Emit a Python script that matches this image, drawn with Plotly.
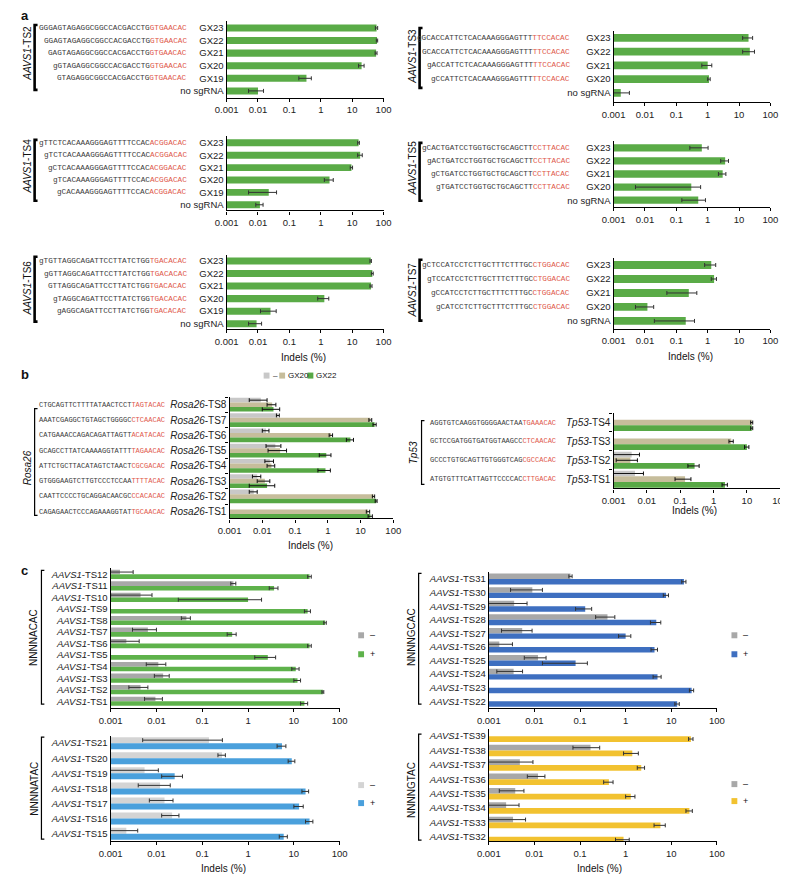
import plotly.graph_objects as go

W, H = 788, 875
SANS = "Liberation Sans, Arial, Helvetica, sans-serif"
MONO = "Liberation Mono, Courier New, monospace"
RED = "#e0584a"
SEQ_DARK = "#3a3a3a"
ERR_COL = "#333333"

TICKVALS = [0.001, 0.01, 0.1, 1, 10, 100]
TICKTEXT = ["0.001", "0.01", "0.1", "1", "10", "100"]

# ---------------- colours ----------------
GREEN_A = "#5aab47"
GRAY_B = "#c8c8c8"
TAN_B = "#c6bd9b"
GREEN_B = "#57a845"
GRAY_C = "#a8a8a8"
LGRAY_C = "#d4d4d4"
GREEN_C = "#5eb24b"
BLUE_C = "#3e6fc0"
LBLUE_C = "#4aa0dc"
YELLOW_C = "#f2c230"

# ---------------- panel a data ----------------
a_labels6 = ["GX23", "GX22", "GX21", "GX20", "GX19", "no sgRNA"]
a_labels5 = ["GX23", "GX22", "GX21", "GX20", "no sgRNA"]

ts2_val = [60, 62, 58, 20, 0.35, 0.01]
ts2_err = [5, 3, 4, 4, 0.15, 0.005]
ts2_seq = [("GGGAGTAGAGGCGGCCACGACCTG", "GTGAACAC"),
           ("GGAGTAGAGGCGGCCACGACCTG", "GTGAACAC"),
           ("GAGTAGAGGCGGCCACGACCTG", "GTGAACAC"),
           ("gGTAGAGGCGGCCACGACCTG", "GTGAACAC"),
           ("GTAGAGGCGGCCACGACCTG", "GTGAACAC")]

ts3_val = [20, 22, 1.0, 1.1, 0.0017]
ts3_err = [7, 9, 0.35, 0.1, 0.0015]
ts3_seq = [("gGCACCATTCTCACAAAGGGAGTTT", "TTCCACAC"),
           ("GCACCATTCTCACAAAGGGAGTTT", "TTCCACAC"),
           ("gACCATTCTCACAAAGGGAGTTT", "TTCCACAC"),
           ("gCCATTCTCACAAAGGGAGTTT", "TTCCACAC")]

ts4_val = [16, 18, 9.5, 1.9, 0.022, 0.0115]
ts4_err = [1, 3, 0.8, 0.6, 0.017, 0.003]
ts4_seq = [("gTTCTCACAAAGGGAGTTTTCCAC", "ACGGACAC"),
           ("gTCTCACAAAGGGAGTTTTCCAC", "ACGGACAC"),
           ("gCTCACAAAGGGAGTTTTCCAC", "ACGGACAC"),
           ("gTCACAAAGGGAGTTTTCCAC", "ACGGACAC"),
           ("gCACAAAGGGAGTTTTCCAC", "ACGGACAC")]

ts5_val = [0.65, 3.6, 3.0, 0.3, 0.5]
ts5_err = [0.38, 1.0, 0.8, 0.295, 0.35]
ts5_seq = [("gCACTGATCCTGGTGCTGCAGCTT", "CCTTACAC"),
           ("gACTGATCCTGGTGCTGCAGCTT", "CCTTACAC"),
           ("gCTGATCCTGGTGCTGCAGCTT", "CCTTACAC"),
           ("gTGATCCTGGTGCTGCAGCTT", "CCTTACAC")]

ts6_val = [39, 44, 40, 1.3, 0.025, 0.009]
ts6_err = [2, 3, 3, 0.5, 0.013, 0.004]
ts6_seq = [("gTGTTAGGCAGATTCCTTATCTGG", "TGACACAC"),
           ("gGTTAGGCAGATTCCTTATCTGG", "TGACACAC"),
           ("GTTAGGCAGATTCCTTATCTGG", "TGACACAC"),
           ("gTAGGCAGATTCCTTATCTGG", "TGACACAC"),
           ("gAGGCAGATTCCTTATCTGG", "TGACACAC")]

ts7_val = [1.3, 1.6, 0.25, 0.012, 0.2]
ts7_err = [0.5, 0.3, 0.2, 0.007, 0.18]
ts7_seq = [("gCTCCATCCTCTTGCTTTCTTTGC", "CTGGACAC"),
           ("gTCCATCCTCTTGCTTTCTTTGC", "CTGGACAC"),
           ("gCCATCCTCTTGCTTTCTTTGC", "CTGGACAC"),
           ("gCATCCTCTTGCTTTCTTTGC", "CTGGACAC")]

# ---------------- panel b data ----------------
rosa_labels = ["<i>Rosa26</i>-TS%d" % i for i in [8, 7, 6, 5, 4, 3, 2, 1]]
rosa_minus = [0.009, 0.03, 0.013, 0.025, 0.017, 0.007, 0.0055, None]
rosa_minus_err = [0.005, 0.003, 0.003, 0.012, 0.005, 0.002, 0.0015, 0]
rosa_gx20 = [0.02, 20, 1.25, 0.035, 0.019, 0.012, 25, 17]
rosa_gx20_err = [0.006, 2, 0.15, 0.02, 0.005, 0.005, 2, 2]
rosa_gx22 = [0.022, 27, 4.9, 0.9, 0.85, 0.014, 30, 20]
rosa_gx22_err = [0.012, 3, 1.2, 0.35, 0.35, 0.01, 2, 3]
rosa_seq = [("CTGCAGTTCTTTTATAACTCCT", "TAGTACAC"),
            ("AAATCGAGGCTGTAGCTGGGGC", "CTCAACAC"),
            ("CATGAAACCAGACAGATTAGTT", "ACATACAC"),
            ("GCAGCCTTATCAAAAGGTATTT", "TAGAACAC"),
            ("ATTCTGCTTACATAGTCTAACT", "CGCGACAC"),
            ("GTGGGAAGTCTTGTCCCTCCAA", "TTTTACAC"),
            ("CAATTCCCCTGCAGGACAACGC", "CCACACAC"),
            ("CAGAGAACTCCCAGAAAGGTAT", "TGCAACAC")]

tp53_labels = ["<i>Tp53</i>-TS%d" % i for i in [4, 3, 2, 1]]
tp53_minus = [None, None, 0.0035, 0.0044]
tp53_minus_err = [0, 0, 0.0025, 0.0035]
tp53_gx20 = [14, 3.4, 0.0032, 0.14]
tp53_gx20_err = [1, 0.5, 0.002, 0.07]
tp53_gx22 = [14, 10, 0.27, 2.2]
tp53_gx22_err = [1, 1.5, 0.1, 0.4]
tp53_seq = [("AGGTGTCAAGGTGGGGAACTAA", "TGAAACAC"),
            ("GCTCCGATGGTGATGGTAAGCC", "CTCAACAC"),
            ("GCCCTGTGCAGTTGTGGGTCAG", "CGCCACAC"),
            ("ATGTGTTTCATTAGTTCCCCAC", "CTTGACAC")]

# ---------------- panel c data ----------------
acac_labels = ["<i>AAVS1</i>-TS%d" % i for i in range(12, 0, -1)]
acac_minus = [0.0016, 0.48, 0.0045, None, 0.045, 0.0065, 0.0022, None, 0.011, 0.014, 0.0045, 0.0095]
acac_minus_err = [0.0015, 0.06, 0.0035, 0, 0.01, 0.0035, 0.002, 0, 0.005, 0.005, 0.002, 0.004]
acac_plus = [22, 3.7, 1.0, 20, 48, 0.45, 22, 2.7, 11, 12, 43, 17]
acac_plus_err = [2, 0.8, 0.97, 3, 3, 0.1, 2, 1.3, 2, 2, 2, 3]

gcac_labels = ["<i>AAVS1</i>-TS%d" % i for i in range(31, 21, -1)]
gcac_minus = [0.062, 0.009, 0.0036, 0.4, 0.0054, 0.0017, 0.012, 0.0035, None, None]
gcac_minus_err = [0.005, 0.006, 0.0033, 0.18, 0.0035, 0.0016, 0.006, 0.002, 0, 0]
gcac_plus = [19, 7.7, 0.13, 4.7, 1.0, 4.3, 0.08, 5, 28, 13.5]
gcac_plus_err = [2, 1, 0.05, 1.2, 0.3, 0.7, 0.065, 1, 3, 1.5]

atac_labels = ["<i>AAVS1</i>-TS%d" % i for i in range(21, 14, -1)]
atac_minus = [0.14, 0.27, 0.0055, 0.012, 0.015, 0.022, 0.0022]
atac_minus_err = [0.135, 0.05, 0.0055, 0.008, 0.008, 0.009, 0.0017]
atac_plus = [5.5, 9, 0.025, 18, 13, 22, 6]
atac_plus_err = [1.2, 1.5, 0.012, 3, 3, 4, 1.2]

gtac_labels = ["<i>AAVS1</i>-TS%d" % i for i in range(39, 31, -1)]
gtac_minus = [None, 0.17, 0.0048, 0.012, 0.0038, 0.0024, 0.0034, None]
gtac_minus_err = [0, 0.1, 0.0045, 0.005, 0.0021, 0.0022, 0.003, 0]
gtac_plus = [27, 1.4, 2.2, 0.43, 1.3, 25, 5.8, 0.9]
gtac_plus_err = [3, 0.5, 0.4, 0.1, 0.3, 4, 1.6, 0.3]

# ---------------- build ----------------
fig = go.Figure()
layout = {}
annotations = []
shapes = []


def X(px):
    return px / W


def Y(py):
    return 1 - py / H


def add_panel(idx, x0, x1, top, bottom, c0, s, labels, series, minor=False,
              tfont=9.5, errc=ERR_COL):
    suf = "" if idx == 1 else str(idx)
    n = len(labels)
    rng = [(bottom - c0) / s, -(c0 - top) / s]
    layout["xaxis" + suf] = dict(
        domain=[X(x0), X(x1)], anchor="y" + suf, type="log", range=[-3, 2],
        tickmode="array", tickvals=TICKVALS, ticktext=TICKTEXT,
        ticks="outside", ticklen=3, tickwidth=1, tickcolor="black",
        showline=True, linecolor="black", linewidth=1.2, showgrid=False,
        zeroline=False, tickfont=dict(family=SANS, size=9.5, color="#222"))
    ya = dict(
        domain=[Y(bottom), Y(top)], anchor="x" + suf, range=rng,
        tickmode="array", tickvals=list(range(n)), ticktext=labels,
        ticks="", showline=True, linecolor="black", linewidth=1.2,
        showgrid=False, zeroline=False,
        tickfont=dict(family=SANS, size=tfont, color="#222"))
    if minor:
        ya["minor"] = dict(tickmode="array", tickvals=[i + 0.5 for i in range(-1, n)],
                           ticks="outside", ticklen=3, tickcolor="black", tickwidth=1)
    layout["yaxis" + suf] = ya
    for vals, errs, color, off, wid in series:
        fig.add_trace(go.Bar(
            x=vals, y=list(range(n)), orientation="h",
            marker=dict(color=color, line=dict(width=0)),
            width=wid, offset=off,
            error_x=dict(type="data", array=errs, visible=True, color=errc,
                         thickness=1, width=2),
            xaxis="x" + suf, yaxis="y" + suf, showlegend=False, hoverinfo="skip"))


def add_seqs(seqs, right_px, c0, s, size):
    for i, (pre, suf) in enumerate(seqs):
        annotations.append(dict(
            x=X(right_px), y=Y(c0 + i * s), xref="paper", yref="paper",
            xanchor="right", yanchor="middle", showarrow=False,
            text="%s<span style='color:%s'>%s</span>" % (pre, RED, suf),
            font=dict(family=MONO, size=size, color=SEQ_DARK)))


def bracket(x, y0, y1, lw, arm):
    shapes.append(dict(type="path", xref="paper", yref="paper",
                       path="M %f %f L %f %f L %f %f L %f %f" % (
                           X(x + arm), Y(y0), X(x), Y(y0), X(x), Y(y1), X(x + arm), Y(y1)),
                       line=dict(color="black", width=lw)))


def vlabel(x, y, text, size=10):
    annotations.append(dict(x=X(x), y=Y(y), xref="paper", yref="paper",
                            text=text, textangle=-90, showarrow=False,
                            xanchor="center", yanchor="middle",
                            font=dict(family=SANS, size=size, color="#111")))


def label(x, y, text, size=10, anchor="center", bold=False):
    annotations.append(dict(x=X(x), y=Y(y), xref="paper", yref="paper",
                            text="<b>%s</b>" % text if bold else text, showarrow=False,
                            xanchor=anchor, yanchor="middle",
                            font=dict(family=SANS, size=size, color="#111")))


def legend_sq(x, y, color):
    shapes.append(dict(type="rect", xref="paper", yref="paper",
                       x0=X(x), x1=X(x + 6), y0=Y(y + 3), y1=Y(y - 3),
                       fillcolor=color, line=dict(width=0)))


one = lambda v, e: [(v, e, GREEN_A, -0.28, 0.56)]

# panel a
add_panel(1, 212, 373, 13.5, 90, 20, 12.6, a_labels6, one(ts2_val, ts2_err))
add_panel(2, 609, 770, 23, 94.5, 30, 13.75, a_labels5, one(ts3_val, ts3_err))
add_panel(3, 212, 373, 128.5, 202.7, 135, 12.4, a_labels6, one(ts4_val, ts4_err))
add_panel(4, 609, 770, 133, 199.3, 140, 13.1, a_labels5, one(ts5_val, ts5_err))
add_panel(5, 212, 373, 247, 321.7, 253.3, 12.55, a_labels6, one(ts6_val, ts6_err))
add_panel(6, 609, 770, 250.3, 321, 257.3, 14, a_labels5, one(ts7_val, ts7_err))

SEQ_A = 7.7
add_seqs(ts2_seq, 173, 20, 12.6, SEQ_A)
add_seqs(ts3_seq, 566, 30, 13.75, SEQ_A)
add_seqs(ts4_seq, 173, 135, 12.4, SEQ_A)
add_seqs(ts5_seq, 566, 140, 13.1, SEQ_A)
add_seqs(ts6_seq, 173, 253.3, 12.55, SEQ_A)
add_seqs(ts7_seq, 566, 257.3, 14, SEQ_A)

for bx, ly, y0, y1, name in [(15, 45, 17, 82, "TS2"), (410, 48, 20, 80, "TS3"),
                              (15, 158, 132, 193, "TS4"), (410, 160, 135, 193, "TS5"),
                              (15, 280, 249, 314, "TS6"), (410, 282, 252, 313, "TS7")]:
    bracket(bx, y0, y1, 2.6, 3)
    vlabel(bx - 7, ly, "<i>AAVS1</i>-" + name)

# panel b
add_panel(7, 215, 383, 389.5, 511, 397.2, 15.3, rosa_labels,
          [(rosa_minus, rosa_minus_err, GRAY_B, -0.45, 0.3),
           (rosa_gx20, rosa_gx20_err, TAN_B, -0.15, 0.3),
           (rosa_gx22, rosa_gx22_err, GREEN_B, 0.15, 0.3)], minor=True, tfont=10,
          errc="#111111")
add_panel(8, 609, 780, 405, 481, 415, 18.9, tp53_labels,
          [(tp53_minus, tp53_minus_err, GRAY_B, -0.45, 0.3),
           (tp53_gx20, tp53_gx20_err, TAN_B, -0.15, 0.3),
           (tp53_gx22, tp53_gx22_err, GREEN_B, 0.15, 0.3)], minor=True, tfont=10,
          errc="#111111")
add_seqs(rosa_seq, 151, 397.2, 15.3, 7.0)
add_seqs(tp53_seq, 552, 415, 18.9, 7.0)
bracket(15, 401, 508, 1.2, 3)
vlabel(8, 460, "<i>Rosa26</i>")
bracket(412, 413, 477, 1.2, 3)
vlabel(404, 445, "<i>Tp53</i>")

# legend b
legend_sq(250, 368, GRAY_B)
label(258, 368, "–", size=8, anchor="left")
legend_sq(266, 368, TAN_B)
label(273, 368, "GX20", size=8, anchor="left")
legend_sq(295, 368, GREEN_B)
label(302, 368, "GX22", size=8, anchor="left")

# panel c
add_panel(9, 93, 328, 561, 701, 567, 11.55, acac_labels,
          [(acac_minus, acac_minus_err, GRAY_C, -0.4, 0.4),
           (acac_plus, acac_plus_err, GREEN_C, 0.0, 0.4)])
add_panel(10, 481, 715, 565, 701, 571.7, 13.6, gcac_labels,
          [(gcac_minus, gcac_minus_err, GRAY_C, -0.4, 0.4),
           (gcac_plus, gcac_plus_err, BLUE_C, 0.0, 0.4)])
add_panel(11, 93, 328, 729, 834, 736, 15.1, atac_labels,
          [(atac_minus, atac_minus_err, LGRAY_C, -0.4, 0.4),
           (atac_plus, atac_plus_err, LBLUE_C, 0.0, 0.4)])
add_panel(12, 481, 715, 721.7, 834, 729, 14.4, gtac_labels,
          [(gtac_minus, gtac_minus_err, GRAY_C, -0.4, 0.4),
           (gtac_plus, gtac_plus_err, YELLOW_C, 0.0, 0.4)])

bracket(22, 563, 697, 1.2, 3)
vlabel(14, 630, "NNNNACAC")
bracket(22, 730, 832, 1.2, 3)
vlabel(14, 782, "NNNNATAC")
bracket(409, 566, 697, 1.2, 3)
vlabel(401, 630, "NNNNGCAC")
bracket(409, 727, 833, 1.2, 3)
vlabel(401, 783, "NNNNGTAC")

for lx, ly1, ly2, col_m, col_p in [(347, 628, 647, GRAY_C, GREEN_C),
                                   (730, 628, 647, GRAY_C, BLUE_C),
                                   (347, 778, 796, LGRAY_C, LBLUE_C),
                                   (730, 777, 794, GRAY_C, YELLOW_C)]:
    legend_sq(lx, ly1, col_m)
    label(lx + 10, ly1, "–", size=9, anchor="left")
    legend_sq(lx, ly2, col_p)
    label(lx + 10, ly2, "+", size=9, anchor="left")

# axis titles
for x, y in [(291, 350), (688, 349), (298, 538), (692, 503), (209, 861), (595, 861)]:
    label(x, y, "Indels (%)", size=10)

# panel letters
label(5, 8, "a", size=13, anchor="center", bold=True)
label(5, 367, "b", size=13, anchor="center", bold=True)
label(5, 563, "c", size=13, anchor="center", bold=True)

layout.update(dict(width=W, height=H, margin=dict(l=0, r=0, t=0, b=0),
                   paper_bgcolor="white", plot_bgcolor="white",
                   showlegend=False, barmode="overlay",
                   annotations=annotations, shapes=shapes,
                   font=dict(family=SANS)))
fig.update_layout(layout)
fig.write_html("out.html")
